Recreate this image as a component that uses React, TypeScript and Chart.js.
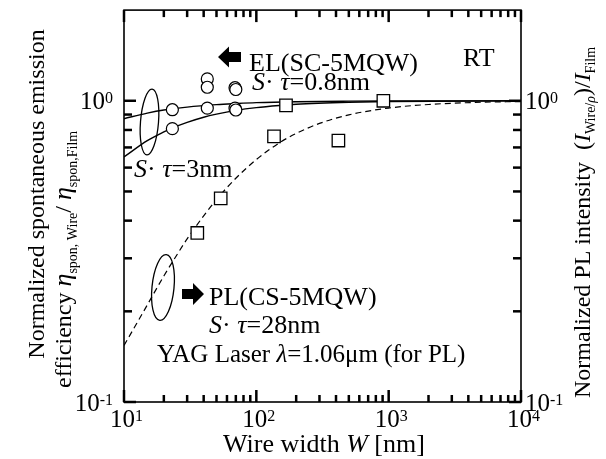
import React, { useEffect, useRef } from "react";
import { Chart, registerables } from "chart.js";

Chart.register(...registerables);

const FONT = '"Liberation Serif", "Times New Roman", serif';

// EL data (open circles)
const elCircleW = [23.2, 23.2, 42.6, 42.6, 42.6, 69, 70, 69, 70];
const elCircleEta = [0.934, 0.808, 1.182, 1.109, 0.945, 1.105, 1.09, 0.945, 0.932];

// PL data (open squares)
const plSquareW = [35.8, 53.8, 136, 167.6, 417, 912];
const plSquareI = [0.364, 0.474, 0.762, 0.965, 0.738, 1.0];

// Fit curve S·τ = 0.8 nm (solid)
const curve08W = [10, 15, 20, 30, 50, 70, 100, 200, 500, 1000, 10000];
const curve08Eta = [0.872, 0.91, 0.932, 0.953, 0.971, 0.979, 0.986, 0.993, 0.997, 0.9985, 1.0];

// Fit curve S·τ = 3 nm (solid)
const curve3W = [10, 15, 20, 23, 30, 40, 50, 70, 100, 150, 200, 500, 1000, 10000];
const curve3Eta = [0.651, 0.737, 0.788, 0.811, 0.848, 0.882, 0.903, 0.929, 0.949, 0.965, 0.974, 0.989, 0.995, 0.9995];

// Fit curve S·τ = 28 nm (dashed)
const curve28W = [10, 12, 15, 20, 25, 30, 40, 50, 70, 100, 150, 200, 300, 500, 1000, 2000, 5000, 10000];
const curve28I = [0.154, 0.177, 0.21, 0.262, 0.307, 0.348, 0.415, 0.47, 0.553, 0.638, 0.726, 0.779, 0.841, 0.898, 0.946, 0.972, 0.989, 0.994];

// Axis ticks
const xTickValues = [10, 100, 1000, 10000];
const xTickExp = ["1", "2", "3", "4"];
const yTickValues = [0.1, 1];
const yTickExp = ["-1", "0"];
const xMinorValues = [20, 30, 40, 50, 60, 70, 80, 90, 200, 300, 400, 500, 600, 700, 800, 900, 2000, 3000, 4000, 5000, 6000, 7000, 8000, 9000];
const yMinorValues = [0.2, 0.3, 0.4, 0.5, 0.6, 0.7, 0.8, 0.9];

type Seg = { t: string; size: number; italic?: boolean; dy?: number };

const fontOf = (s: Seg) => `${s.italic ? "italic " : ""}${s.size}px ${FONT}`;

function segsWidth(ctx: CanvasRenderingContext2D, segs: Seg[]) {
  let w = 0;
  for (const s of segs) {
    ctx.font = fontOf(s);
    w += ctx.measureText(s.t).width;
  }
  return w;
}

function drawSegs(ctx: CanvasRenderingContext2D, segs: Seg[], x: number, y: number) {
  let cx = x;
  ctx.textAlign = "left";
  ctx.textBaseline = "alphabetic";
  for (const s of segs) {
    ctx.font = fontOf(s);
    ctx.fillText(s.t, cx, y + (s.dy || 0));
    cx += ctx.measureText(s.t).width;
  }
}

function pts(xs: number[], ys: number[]) {
  return xs.map((x, i) => ({ x, y: ys[i] }));
}

const decorPlugin = {
  id: "decor",
  afterDraw(chart: any) {
    const ctx: CanvasRenderingContext2D = chart.ctx;
    const area = chart.chartArea;
    const L = area.left;
    const R = area.right;
    const T = area.top;
    const B = area.bottom;
    const xs = chart.scales.x;
    const ys = chart.scales.y;
    ctx.save();
    ctx.setLineDash([]);
    ctx.strokeStyle = "#000";
    ctx.fillStyle = "#000";

    // frame
    ctx.lineWidth = 1.6;
    ctx.strokeRect(L, T, R - L, B - T);

    // tick marks (inward on all four sides)
    ctx.lineWidth = 2.5;
    const seg = (x1: number, y1: number, x2: number, y2: number) => {
      ctx.beginPath();
      ctx.moveTo(x1, y1);
      ctx.lineTo(x2, y2);
      ctx.stroke();
    };
    const xTick = (val: number, len: number) => {
      const px = xs.getPixelForValue(val);
      seg(px, B, px, B - len);
      seg(px, T, px, T + len);
    };
    const yTick = (val: number, len: number) => {
      const py = ys.getPixelForValue(val);
      seg(L, py, L + len, py);
      seg(R, py, R - len, py);
    };
    xTickValues.forEach((v) => xTick(v, 12));
    xMinorValues.forEach((v) => xTick(v, 7));
    yTickValues.forEach((v) => yTick(v, 12));
    yMinorValues.forEach((v) => yTick(v, 8));

    // x tick labels
    xTickValues.forEach((v, i) => {
      const px = xs.getPixelForValue(v);
      const segs: Seg[] = [
        { t: "10", size: 25 },
        { t: xTickExp[i], size: 16, dy: -6 },
      ];
      drawSegs(ctx, segs, px - 14, B + 25);
    });
    // y tick labels (left, right)
    yTickValues.forEach((v, i) => {
      const py = ys.getPixelForValue(v);
      const segs: Seg[] = [
        { t: "10", size: 25 },
        { t: yTickExp[i], size: 16, dy: -6 },
      ];
      const w = segsWidth(ctx, segs);
      drawSegs(ctx, segs, L - 11 - w, py + 8.5);
      drawSegs(ctx, segs, R + 4, py + 8.5);
    });

    // x title
    drawSegs(
      ctx,
      [
        { t: "Wire width ", size: 26 },
        { t: "W", size: 26, italic: true },
        { t: " [nm]", size: 26 },
      ],
      223,
      452
    );

    // left title (rotated)
    ctx.save();
    ctx.translate(44, 0);
    ctx.rotate(-Math.PI / 2);
    const l1: Seg[] = [{ t: "Normalized spontaneous emission", size: 24 }];
    const w1 = segsWidth(ctx, l1);
    drawSegs(ctx, l1, -194 - w1 / 2, 0);
    ctx.restore();

    ctx.save();
    ctx.translate(71, 388);
    ctx.rotate(-Math.PI / 2);
    drawSegs(
      ctx,
      [
        { t: "efficiency ", size: 24 },
        { t: "η", size: 26, italic: true },
        { t: "spon, Wire", size: 14, dy: 6 },
        { t: "/ ", size: 24 },
        { t: "η", size: 26, italic: true },
        { t: "spon,Film", size: 14, dy: 6 },
      ],
      0,
      0
    );
    ctx.restore();

    // right title (rotated)
    ctx.save();
    ctx.translate(590, 398);
    ctx.rotate(-Math.PI / 2);
    drawSegs(
      ctx,
      [
        { t: "Normalized PL intensity  (", size: 24 },
        { t: "I", size: 24, italic: true },
        { t: "Wire/", size: 14, dy: 5 },
        { t: "ρ", size: 14, italic: true, dy: 5 },
        { t: ")/", size: 24 },
        { t: "I", size: 24, italic: true },
        { t: "Film", size: 14, dy: 5 },
      ],
      0,
      0
    );
    ctx.restore();

    // EL arrow (pointing left)
    ctx.beginPath();
    ctx.moveTo(218, 57);
    ctx.lineTo(229, 46.5);
    ctx.lineTo(229, 52);
    ctx.lineTo(241, 52);
    ctx.lineTo(241, 62);
    ctx.lineTo(229, 62);
    ctx.lineTo(229, 67.5);
    ctx.closePath();
    ctx.fill();
    drawSegs(ctx, [{ t: "EL(SC-5MQW)", size: 26 }], 249, 71);
    drawSegs(ctx, [{ t: "RT", size: 26 }], 463, 66);
    drawSegs(
      ctx,
      [
        { t: "S", size: 26, italic: true },
        { t: "· ", size: 26 },
        { t: "τ", size: 26, italic: true },
        { t: "=0.8nm", size: 26 },
      ],
      252,
      90
    );
    drawSegs(
      ctx,
      [
        { t: "S", size: 26, italic: true },
        { t: "· ", size: 26 },
        { t: "τ", size: 26, italic: true },
        { t: "=3nm", size: 26 },
      ],
      134,
      177
    );

    // PL arrow (pointing right)
    ctx.beginPath();
    ctx.moveTo(204, 294);
    ctx.lineTo(193, 283);
    ctx.lineTo(193, 289);
    ctx.lineTo(182, 289);
    ctx.lineTo(182, 299);
    ctx.lineTo(193, 299);
    ctx.lineTo(193, 305);
    ctx.closePath();
    ctx.fill();
    drawSegs(ctx, [{ t: "PL(CS-5MQW)", size: 26 }], 209, 305);
    drawSegs(
      ctx,
      [
        { t: "S", size: 26, italic: true },
        { t: "· ", size: 26 },
        { t: "τ", size: 26, italic: true },
        { t: "=28nm", size: 26 },
      ],
      209,
      333
    );
    drawSegs(
      ctx,
      [
        { t: "YAG Laser ", size: 25 },
        { t: "λ", size: 25, italic: true },
        { t: "=1.06μm (for PL)", size: 25 },
      ],
      157,
      362
    );

    // ellipses
    ctx.lineWidth = 1.3;
    ctx.beginPath();
    ctx.ellipse(149.5, 122, 9, 33, 0.08, 0, Math.PI * 2);
    ctx.stroke();
    ctx.beginPath();
    ctx.ellipse(163, 287.5, 11, 33, 0.1, 0, Math.PI * 2);
    ctx.stroke();

    ctx.restore();
  },
};

export default function App() {
  const canvasRef = useRef<HTMLCanvasElement | null>(null);

  useEffect(() => {
    const canvas = canvasRef.current;
    if (!canvas) return;
    const chart = new Chart(canvas, {
      type: "scatter",
      data: {
        datasets: [
          {
            label: "EL",
            data: pts(elCircleW, elCircleEta),
            pointStyle: "circle",
            pointRadius: 6,
            borderWidth: 1.2,
            borderColor: "#000",
            backgroundColor: "#fff",
            showLine: false,
          },
          {
            label: "PL",
            data: pts(plSquareW, plSquareI),
            pointStyle: "rect",
            pointRadius: 8.8,
            borderWidth: 1.3,
            borderColor: "#000",
            backgroundColor: "#fff",
            showLine: false,
          },
          {
            label: "S·τ=0.8nm",
            data: pts(curve08W, curve08Eta),
            showLine: true,
            pointRadius: 0,
            borderColor: "#000",
            borderWidth: 1.4,
            cubicInterpolationMode: "monotone",
          },
          {
            label: "S·τ=3nm",
            data: pts(curve3W, curve3Eta),
            showLine: true,
            pointRadius: 0,
            borderColor: "#000",
            borderWidth: 1.4,
            cubicInterpolationMode: "monotone",
          },
          {
            label: "S·τ=28nm",
            data: pts(curve28W, curve28I),
            showLine: true,
            pointRadius: 0,
            borderColor: "#000",
            borderWidth: 1.2,
            borderDash: [6, 4],
            cubicInterpolationMode: "monotone",
          },
        ],
      } as any,
      options: {
        responsive: false,
        animation: false,
        events: [],
        layout: { padding: { left: 124, right: 85, top: 8, bottom: 57 } },
        plugins: { legend: { display: false }, tooltip: { enabled: false } },
        scales: {
          x: { type: "logarithmic", min: 10, max: 10000, display: false },
          y: { type: "logarithmic", min: 0.1, max: 2, display: false },
        },
      } as any,
      plugins: [decorPlugin],
    });
    return () => chart.destroy();
  }, []);

  return (
    <div style={{ position: "absolute", left: 0, top: 0, width: 606, height: 459, background: "#fff" }}>
      <canvas ref={canvasRef} width={606} height={459} style={{ display: "block" }} />
    </div>
  );
}
